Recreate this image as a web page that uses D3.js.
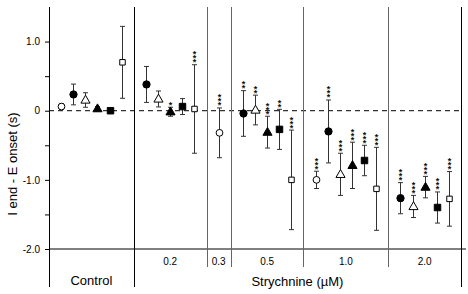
<!DOCTYPE html>
<html>
<head>
<meta charset="utf-8">
<script src="https://cdn.jsdelivr.net/npm/d3@7"></script>
<style>
  html, body { margin: 0; padding: 0; background: #fff; }
  svg { display: block; font-family: "Liberation Sans", Arial, sans-serif; }
</style>
</head>
<body>
<svg id="chart" width="468" height="294"></svg>
<script>
// ---- data ----
const groups = ["Control", "0.2", "0.3", "0.5", "1.0", "2.0"];
const groupSlots = [7, 6, 2, 6, 7, 6];          // slot widths of each group
const seriesNames = ["openCircle", "filledCircle", "openTriangle", "filledTriangle", "filledSquare", "openSquare"];

const openCircleMean     = [0.06,  null,  -0.32, null,  -1.00, null];
const filledCircleMean   = [0.235, 0.38,  null,  -0.04, -0.30, -1.265];
const openTriangleMean   = [0.155, 0.17,  null,  0.01,  -0.92, -1.385];
const filledTriangleMean = [0.03,  -0.015, null, -0.31, -0.79, -1.105];
const filledSquareMean   = [0.0,   0.06,  null,  -0.27, -0.72, -1.40];
const openSquareMean     = [0.70,  0.025, null,  -1.00, -1.13, -1.275];

const openCircleErr     = [0.04,  null,  0.36, null,  0.125, null];
const filledCircleErr   = [0.15,  0.26,  null, 0.33,  0.455, 0.225];
const openTriangleErr   = [0.105, 0.115, null, 0.215, 0.305, 0.16];
const filledTriangleErr = [0.03,  0.065, null, 0.23,  0.335, 0.155];
const filledSquareErr   = [0.02,  0.115, null, 0.29,  0.22,  0.225];
const openSquareErr     = [0.52,  0.64,  null, 0.72,  0.60,  0.395];

const openCircleSig     = ["", null, "***", null, "***", null];
const filledCircleSig   = ["", "",   null,  "**", "***", "***"];
const openTriangleSig   = ["", "",   null,  "**", "***", "***"];
const filledTriangleSig = ["", "*",  null,  "***", "***", "***"];
const filledSquareSig   = ["", "",   null,  "**", "***", "***"];
const openSquareSig     = ["", "***", null, "***", "***", "***"];

const yTickValues = [-2, -1.5, -1, -0.5, 0, 0.5, 1];
const yTickLabels = {"-2": "-2.0", "-1": "-1.0", "0": "0", "1": "1.0"};
const yTitle = "I end - E onset (s)";
const xTitle = "Strychnine (\u00b5M)";

const means = [openCircleMean, filledCircleMean, openTriangleMean, filledTriangleMean, filledSquareMean, openSquareMean];
const errs  = [openCircleErr, filledCircleErr, openTriangleErr, filledTriangleErr, filledSquareErr, openSquareErr];
const sigs  = [openCircleSig, filledCircleSig, openTriangleSig, filledTriangleSig, filledSquareSig, openSquareSig];

// ---- layout ----
const svg = d3.select("#chart");
const totalSlots = d3.sum(groupSlots);
const x = d3.scaleLinear().domain([0, totalSlots]).range([49, 461]);
const y = d3.scaleLinear().domain([-2, 1.5]).range([249, 7]);

const bounds = [0];
groupSlots.forEach(s => bounds.push(bounds[bounds.length - 1] + s));
const centers = groups.map((g, i) => (bounds[i] + bounds[i + 1]) / 2);

// build points
const points = [];
groups.forEach((g, gi) => {
  const present = seriesNames.map((s, si) => si).filter(si => means[si][gi] !== null);
  const n = present.length;
  present.forEach((si, k) => {
    points.push({
      series: seriesNames[si],
      u: centers[gi] + (k - (n - 1) / 2),
      mean: means[si][gi],
      err: errs[si][gi],
      sig: sigs[si][gi] || ""
    });
  });
});

// y axis
const yAxis = d3.axisLeft(y)
  .tickValues(yTickValues)
  .tickSize(4)
  .tickPadding(5)
  .tickFormat(d => yTickLabels[String(d)] !== undefined ? yTickLabels[String(d)] : "");
const ga = svg.append("g").attr("transform", `translate(${x(0)},0)`).call(yAxis);
ga.select(".domain").remove();
ga.selectAll(".tick line").attr("stroke", "#000");
ga.selectAll(".tick text").attr("font-size", 10).attr("fill", "#000")
  .attr("font-family", "Liberation Sans, Arial, sans-serif");

// zero dashed line
svg.append("line")
  .attr("x1", x(0)).attr("x2", x(totalSlots))
  .attr("y1", y(0)).attr("y2", y(0))
  .attr("stroke", "#000").attr("stroke-width", 1)
  .attr("stroke-dasharray", "5,4");

// bottom horizontal line at -2
svg.append("line")
  .attr("x1", x(0)).attr("x2", x(totalSlots) + 5)
  .attr("y1", y(-2)).attr("y2", y(-2))
  .attr("stroke", "#000").attr("stroke-width", 1);

// vertical separators
bounds.forEach((b, i) => {
  const major = (i === 0 || i === 1 || i === bounds.length - 1);
  svg.append("line")
    .attr("x1", Math.round(x(b)) + 0.5).attr("x2", Math.round(x(b)) + 0.5)
    .attr("y1", y(1.5)).attr("y2", major ? 287 : 267)
    .attr("stroke", major ? "#000" : "#666")
    .attr("stroke-width", 1);
});

// group labels
groups.forEach((g, gi) => {
  if (gi === 0) {
    svg.append("text").attr("x", x(centers[gi])).attr("y", 285)
      .attr("text-anchor", "middle").attr("font-size", 13).attr("fill", "#000").text(g);
  } else {
    svg.append("text").attr("x", x(centers[gi])).attr("y", 265)
      .attr("text-anchor", "middle").attr("font-size", 10).attr("fill", "#000").text(g);
  }
});
svg.append("text").attr("x", x((bounds[1] + bounds[bounds.length - 1]) / 2)).attr("y", 286)
  .attr("text-anchor", "middle").attr("font-size", 13).attr("fill", "#000").text(xTitle);

// y title
svg.append("text")
  .attr("transform", `translate(17,${164}) rotate(-90)`)
  .attr("text-anchor", "middle").attr("font-size", 13).attr("fill", "#000").text(yTitle);

// error bars
const eb = svg.append("g");
points.forEach(p => {
  const px = Math.round(x(p.u)) + 0.5;
  const y1 = y(p.mean + p.err), y2 = y(p.mean - p.err);
  eb.append("line").attr("x1", px).attr("x2", px).attr("y1", y1).attr("y2", y2)
    .attr("stroke", "#333").attr("stroke-width", 1);
  [y1, y2].forEach(yy => eb.append("line").attr("x1", px - 2.5).attr("x2", px + 2.5)
    .attr("y1", yy).attr("y2", yy).attr("stroke", "#333").attr("stroke-width", 1));
});

// markers
const symType = {
  openCircle: [d3.symbolCircle, false, 36],
  filledCircle: [d3.symbolCircle, true, 42],
  openTriangle: [d3.symbolTriangle, false, 36],
  filledTriangle: [d3.symbolTriangle, true, 36],
  filledSquare: [d3.symbolSquare, true, 42],
  openSquare: [d3.symbolSquare, false, 30]
};
points.forEach(p => {
  const [t, filled, size] = symType[p.series];
  svg.append("path")
    .attr("d", d3.symbol().type(t).size(size)())
    .attr("transform", `translate(${Math.round(x(p.u)) + 0.5},${y(p.mean) + (t === d3.symbolTriangle ? 0.5 : 0)})`)
    .attr("fill", filled ? "#000" : "#fff")
    .attr("stroke", "#000").attr("stroke-width", 1);
});

// significance stars (stacked vertically, one text per stack)
points.filter(p => p.sig.length > 0).forEach(p => {
  const top = y(p.mean + p.err);
  const n = p.sig.length;
  const px = Math.round(x(p.u)) + 0.5;
  const t = svg.append("text")
    .attr("text-anchor", "middle")
    .attr("font-size", 9).attr("font-weight", "bold").attr("fill", "#111");
  for (let i = 0; i < n; i++) {
    const cy = top - 4.5 - (n - 1 - i) * 4;
    t.append("tspan").attr("x", px).attr("y", cy + 5).text("*");
  }
});
</script>
</body>
</html>
